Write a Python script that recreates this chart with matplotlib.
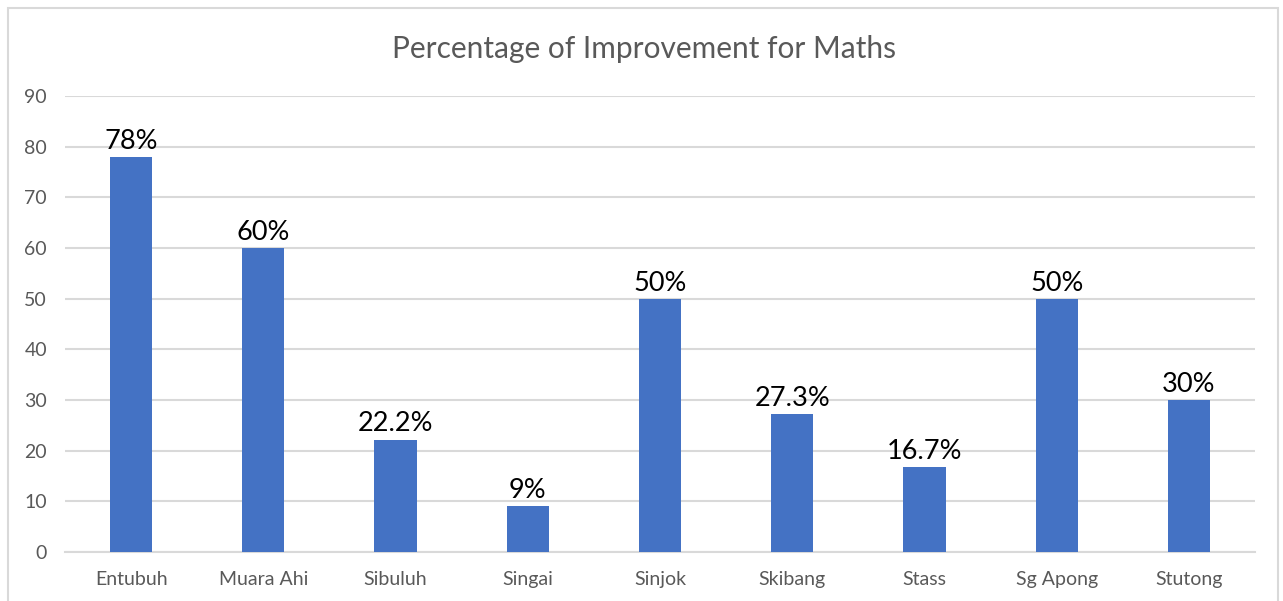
import matplotlib.pyplot as plt
from matplotlib.patches import Rectangle

schools = ["Entubuh", "Muara Ahi", "Sibuluh", "Singai", "Sinjok",
           "Skibang", "Stass", "Sg Apong", "Stutong"]
improvement = [78, 60, 22.2, 9, 50, 27.3, 16.7, 50, 30]
bar_labels = ["78%", "60%", "22.2%", "9%", "50%", "27.3%", "16.7%", "50%", "30%"]
yticks = list(range(0, 100, 10))

plt.rcParams['font.family'] = ['Lato', 'DejaVu Sans']

fig = plt.figure(figsize=(12.83, 6.01), dpi=100)
ax = fig.add_axes([65 / 1283, 49 / 601, (1255 - 65) / 1283, 456 / 601])

# outer chart border (bottom edge falls outside the image)
fig.patches.append(Rectangle((8 / 1283, -0.05), (1278 - 8) / 1283, (593 / 601) + 0.05,
                             transform=fig.transFigure, fill=False,
                             edgecolor="#D9D9D9", linewidth=1.5))

x = range(len(schools))
bars = ax.bar(x, improvement, width=0.32, color="#4472C4", zorder=3)
for rect, lab in zip(bars, bar_labels):
    ax.text(rect.get_x() + rect.get_width() / 2, rect.get_height() + 0.6, lab,
            ha="center", va="bottom", fontsize=19.5, color="black")

ax.set_xlim(-0.5, len(schools) - 0.5)
ax.set_ylim(0, 90)
ax.set_yticks(yticks)
ax.set_xticks(list(x))
ax.set_xticklabels(schools)
ax.tick_params(axis="both", length=0, labelsize=14, colors="#595959")
ax.tick_params(axis="x", pad=14)
ax.tick_params(axis="y", pad=13)
ax.grid(axis="y", color="#D9D9D9", linewidth=1.5, zorder=0)
for s in ["top", "right", "left"]:
    ax.spines[s].set_visible(False)
ax.spines["bottom"].set_color("#D9D9D9")
ax.spines["bottom"].set_linewidth(1.5)

fig.text(644 / 1283, 1 - 49 / 601, "Percentage of Improvement for Maths",
         ha="center", va="center", fontsize=21.5, color="#595959")

fig.savefig("out.png", dpi=100)
